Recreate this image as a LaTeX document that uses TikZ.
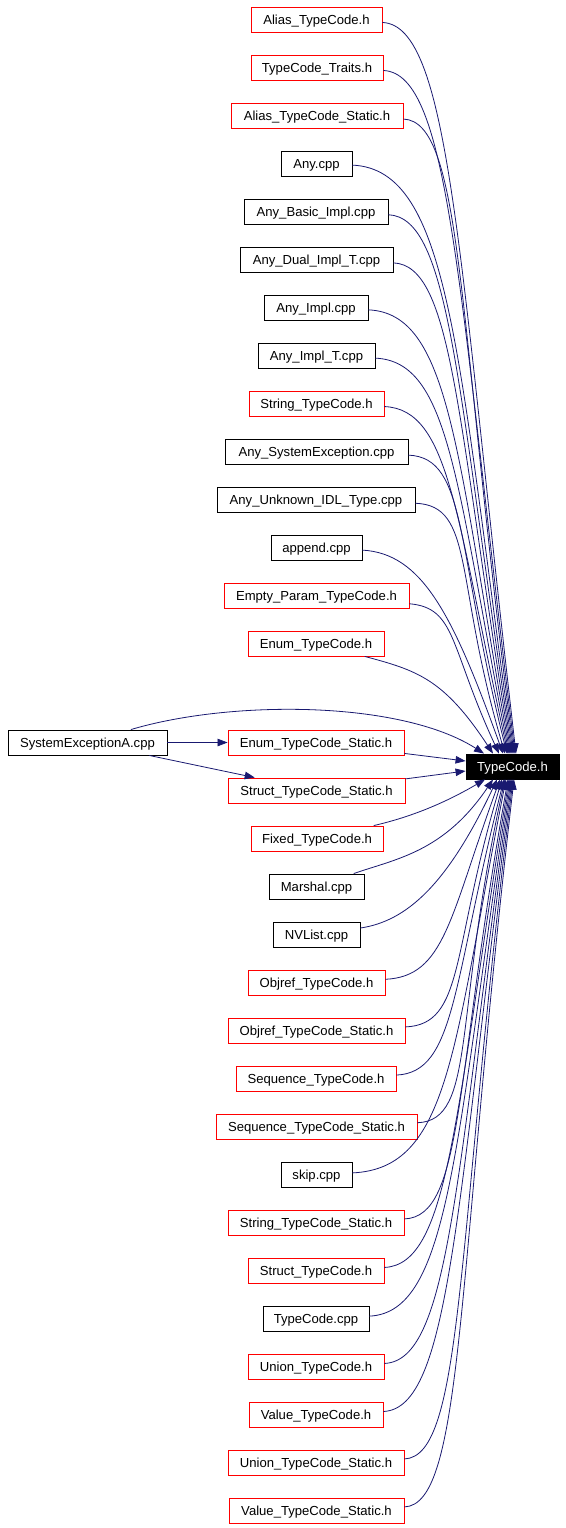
\documentclass[tikz,border=0pt]{standalone}
\usepackage{fontspec}
\setmainfont{Liberation Sans}
\usetikzlibrary{arrows.meta,calc}
\definecolor{edgec}{HTML}{191970}
\begin{document}
\begin{tikzpicture}[x=1pt,y=-1pt,
  box/.style={rectangle, minimum height=25pt, inner xsep=0pt, inner ysep=0pt,
    text height=9.4pt, text depth=0pt,
    font=\fontsize{13.1}{15}\selectfont, line width=0.9pt, anchor=center},
  redbox/.style={box, draw=red},
  blkbox/.style={box, draw=black},
  edge/.style={draw=edgec, line width=0.8pt, -{Triangle[length=10pt,width=7.5pt]}}]
\useasboundingbox (0,0) rectangle (565,1528);
% target
\node[box, draw=black, fill=black, text=white, minimum width=93pt] (tc) at (512.5,766.5) {TypeCode.h};
\node[blkbox, minimum width=159pt] (sysA) at (87.5,742.5) {SystemExceptionA.cpp};
% upper group
\foreach \i/\t/\cx/\w/\s in {
 1/Alias\_TypeCode.h/316.5/131/redbox,
 2/TypeCode\_Traits.h/317/132/redbox,
 3/Alias\_TypeCode\_Static.h/317/172/redbox,
 4/Any.cpp/316.5/71/blkbox,
 5/Any\_Basic\_Impl.cpp/316/144/blkbox,
 6/Any\_Dual\_Impl\_T.cpp/316.5/153/blkbox,
 7/Any\_Impl.cpp/316/104/blkbox,
 8/Any\_Impl\_T.cpp/316.5/117/blkbox,
 9/String\_TypeCode.h/316.5/135/redbox,
 10/Any\_SystemException.cpp/316.5/183/blkbox,
 11/Any\_Unknown\_IDL\_Type.cpp/316/198/blkbox,
 12/append.cpp/316.5/91/blkbox,
 13/Empty\_Param\_TypeCode.h/316.5/185/redbox,
 14/Enum\_TypeCode.h/316/136/redbox}{
  \pgfmathsetmacro\yy{19.5+48*(\i-1)}
  \node[\s, minimum width=\w pt] (n\i) at (\cx,\yy) {\t};
}
% lower group
\foreach \i/\t/\cx/\w/\s in {
 15/Enum\_TypeCode\_Static.h/316/176/redbox,
 16/Struct\_TypeCode\_Static.h/316.5/177/redbox,
 17/Fixed\_TypeCode.h/317/132/redbox,
 18/Marshal.cpp/316.5/95/blkbox,
 19/NVList.cpp/316.5/87/blkbox,
 20/Objref\_TypeCode.h/316.5/137/redbox,
 21/Objref\_TypeCode\_Static.h/316.5/177/redbox,
 22/Sequence\_TypeCode.h/316/160/redbox,
 23/Sequence\_TypeCode\_Static.h/316.5/201/redbox,
 24/skip.cpp/316.5/71/blkbox,
 25/String\_TypeCode\_Static.h/316/176/redbox,
 26/Struct\_TypeCode.h/316/136/redbox,
 27/TypeCode.cpp/316/106/blkbox,
 28/Union\_TypeCode.h/316/136/redbox,
 29/Value\_TypeCode.h/316/134/redbox,
 30/Union\_TypeCode\_Static.h/316/176/redbox,
 31/Value\_TypeCode\_Static.h/316.5/175/redbox}{
  \pgfmathsetmacro\yy{742.5+48*(\i-15)}
  \node[\s, minimum width=\w pt] (n\i) at (\cx,\yy) {\t};
}
% upper edges: index / east x / arrow tip x
\foreach \i/\ex/\xt in {1/382/516,2/383/515,3/403/514,4/352/513,5/388/512,6/393/511,7/368/510,
  8/375/509,9/384/508,10/408/507,11/415/505,12/362/503,13/409/499,14/384/493}{
  \pgfmathsetmacro\yy{19.5+48*(\i-1)}
  \pgfmathsetmacro\qH{754-\yy}
  \pgfmathsetmacro\qa{min(60,0.3*\qH)}
  \pgfmathsetmacro\qd{min(0.4*\qH,max(6,0.3*(200-\qH)))}
  \pgfmathsetmacro\cax{ifthenelse(\qH>300,max(\ex+\qa,450),\ex+\qa)}
  \pgfmathsetmacro\cay{\yy+\qd}
  \pgfmathsetmacro\qs{min(0.9,0.02+70/\qH)}
  \pgfmathsetmacro\qL{0.68*\qH}
  \pgfmathsetmacro\cbx{\xt-\qs*\qL}
  \pgfmathsetmacro\cby{754-\qL}
  \pgfmathsetmacro\dx{\xt-512.5}
  \draw[edge] (n\i) .. controls (\cax,\cay) and (\cbx,\cby) .. ([xshift=\dx pt]tc.north);
}
% lower edges
\foreach \i/\ex/\xt in {18/364/493,19/360/497,20/385/500,21/405/502,22/396/504,23/417/505,
  24/352/506,25/404/508,26/384/509,27/369/510,28/384/511,29/383/512,30/404/513,31/404/514}{
  \pgfmathsetmacro\yy{742.5+48*(\i-15)}
  \pgfmathsetmacro\qH{\yy-779}
  \pgfmathsetmacro\qa{min(60,0.3*\qH)}
  \pgfmathsetmacro\qd{min(0.4*\qH,max(6,0.3*(200-\qH)))}
  \pgfmathsetmacro\cax{ifthenelse(\qH>300,max(\ex+\qa,450),\ex+\qa)}
  \pgfmathsetmacro\cay{\yy-\qd}
  \pgfmathsetmacro\qs{min(0.9,0.02+70/\qH)}
  \pgfmathsetmacro\qL{0.68*\qH}
  \pgfmathsetmacro\cbx{\xt-\qs*\qL}
  \pgfmathsetmacro\cby{779+\qL}
  \pgfmathsetmacro\dx{\xt-512.5}
  \draw[edge] (n\i) .. controls (\cax,\cay) and (\cbx,\cby) .. ([xshift=\dx pt]tc.south);
}
\draw[edge] (n17) .. controls (420,815) and (455,797) .. ([xshift=-27.5pt]tc.south);
% middle edges
\draw[edge] (sysA) .. controls (230,700) and (400,700) .. ([xshift=-28.5pt]tc.north);
\draw[edge] (sysA) -- (n15);
\draw[edge] (sysA) -- (n16);
\draw[edge] (n15) -- ([yshift=5.5pt]tc.west);
\draw[edge] (n16) -- ([yshift=-4.5pt]tc.west);
\end{tikzpicture}
\end{document}
